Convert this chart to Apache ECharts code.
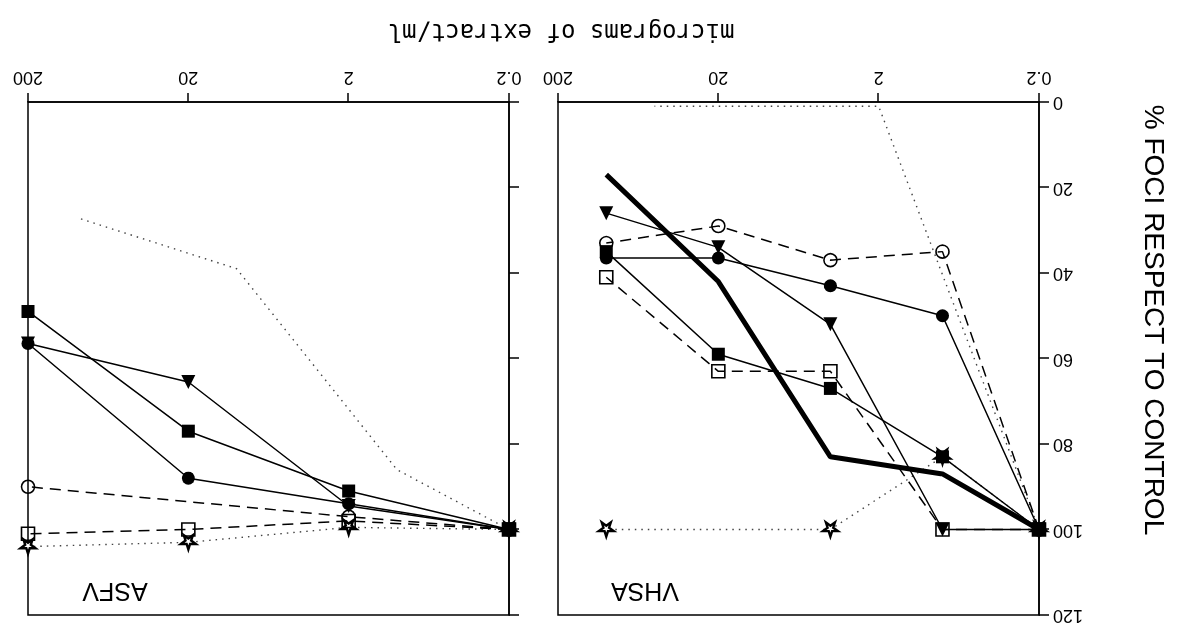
<!DOCTYPE html>
<html>
<head>
<meta charset="utf-8">
<script src="https://cdn.jsdelivr.net/npm/echarts@6/dist/echarts.min.js"></script>
<style>
  html, body { margin: 0; padding: 0; background: #fff; }
  /* the reference figure is scanned upside down */
  #chart { width: 1178px; height: 624px; transform: rotate(180deg); }
</style>
</head>
<body>
<div id="chart"></div>
<script>
// ticks of the log dose axis (micrograms/ml)
var xTicks = [0.2, 2, 20, 200];

// VHSA panel
var vhsaDoses = [0.2, 0.8, 4, 20, 100];
var vhsaThick = [100, 87, 83, 42, 17];
var vhsaFilledCircle = [100, 50, 43, 36.5, 36.5];
var vhsaOpenCircle = [100, 35, 37, 29, 33];
var vhsaTriangle = [100, 100, 52, 34, 26];
var vhsaFilledSquare = [100, 83, 67, 59, 35];
var vhsaOpenSquare = [100, 100, 63, 63, 41];
var vhsaStar = [100, 83, 100, null, 100];
var vhsaDottedDoses = [0.2, 2, 50];
var vhsaDotted = [100, 1, 1];

// ASFV panel
var asfvDoses = [0.2, 2, 20, 200];
var asfvFilledCircle = [100, 94, 88, 56.5];
var asfvTriangle = [100, 94.5, 65.5, 56.5];
var asfvFilledSquare = [100, 91, 77, 49];
var asfvOpenCircle = [100, 97, null, 90];
var asfvOpenSquare = [100, 98, 100, 101];
var asfvStar = [100, 99.5, 103, 104];
var asfvDottedDoses = [0.2, 1, 10, 100];
var asfvDotted = [100, 86, 39, 27];

// position on the axis = decades above 0.2
var toAxis = function (d) { return Math.log10(d / xTicks[0]) }

var solid = { color: '#000', width: 1.5, type: 'solid' }
var dashed = { color: '#000', width: 1.5, type: [11, 7] }
var dotted = { color: '#444', width: 1.4, type: [1.5, 5] }
var thick = { color: '#000', width: 5 }

var starPath = 'path://M50,0 L61,35 L98,35 L68,57 L79,91 L50,70 L21,91 L32,57 L2,35 L39,35 Z'

var marks = {
  none: { symbol: 'none' },
  filledCircle: { symbol: 'circle', symbolSize: 13, itemStyle: { color: '#000' } },
  openCircle: { symbol: 'circle', symbolSize: 13, itemStyle: { color: 'rgba(0,0,0,0)', borderColor: '#000', borderWidth: 1.6 } },
  filledSquare: { symbol: 'rect', symbolSize: 13, itemStyle: { color: '#000' } },
  openSquare: { symbol: 'rect', symbolSize: 13, itemStyle: { color: 'rgba(0,0,0,0)', borderColor: '#000', borderWidth: 1.6 } },
  triangle: { symbol: 'triangle', symbolSize: 14, itemStyle: { color: '#000' } },
  star: { symbol: starPath, symbolSize: 15, symbolKeepAspect: true, itemStyle: { color: '#fff', borderColor: '#000', borderWidth: 2.4 } }
}

function makeSeries(gi, doses, vals, mark, line) {
  var data = []
  doses.forEach(function (d, i) {
    if (vals[i] != null) data.push([toAxis(d), vals[i]])
  })
  var s = {
    type: 'line',
    xAxisIndex: gi,
    yAxisIndex: gi,
    data: data,
    lineStyle: line,
    showSymbol: mark.symbol !== 'none',
    animation: false,
    silent: true
  }
  return Object.assign(s, mark)
}

function makeX(gi) {
  return {
    gridIndex: gi, type: 'value', min: 0, max: 3, interval: 1,
    axisLine: { show: true, lineStyle: { color: '#000', width: 1.5 } },
    axisTick: { show: true, length: 9, lineStyle: { color: '#000', width: 1.5 } },
    splitLine: { show: false },
    axisLabel: {
      margin: 16, color: '#000', fontSize: 18, fontFamily: 'Liberation Sans',
      formatter: function (v) { return String(xTicks[Math.round(v)]) }
    }
  }
}

function makeY(gi, labels) {
  return {
    gridIndex: gi, type: 'value', min: 0, max: 120, interval: 20,
    axisLine: { show: true, lineStyle: { color: '#000', width: 1.5 } },
    axisTick: { show: true, length: 10, lineStyle: { color: '#000', width: 1.5 } },
    splitLine: { show: false },
    axisLabel: { show: labels, margin: 14, color: '#000', fontSize: 18, fontFamily: 'Liberation Sans' }
  }
}

var chart = echarts.init(document.getElementById('chart'))

var option = {
  backgroundColor: '#fff',
  grid: [
    { left: 139, top: 9, width: 481, height: 513, show: true, borderColor: '#000', borderWidth: 1.5 },
    { left: 669, top: 9, width: 481, height: 513, show: true, borderColor: '#000', borderWidth: 1.5 }
  ],
  xAxis: [makeX(0), makeX(1)],
  yAxis: [makeY(0, true), makeY(1, false)],
  graphic: [
    { type: 'text', x: 533, y: 34, silent: true,
      style: { text: 'VHSA', fill: '#000', font: '25px "Liberation Sans"', align: 'center', verticalAlign: 'middle' } },
    { type: 'text', x: 1063, y: 34, silent: true,
      style: { text: 'ASFV', fill: '#000', font: '25px "Liberation Sans"', align: 'center', verticalAlign: 'middle' } },
    { type: 'text', x: 617, y: 594, silent: true,
      style: { text: 'micrograms of extract/ml', fill: '#000', font: '24px "DejaVu Sans Mono"', align: 'center', verticalAlign: 'middle' } },
    { type: 'text', x: 25, y: 304, rotation: Math.PI / 2, silent: true,
      style: { text: '% FOCI RESPECT TO CONTROL', fill: '#000', font: '28px "Liberation Sans"', align: 'center', verticalAlign: 'middle' } }
  ],
  series: [
    makeSeries(0, vhsaDottedDoses, vhsaDotted, marks.none, dotted),
    makeSeries(0, vhsaDoses, vhsaStar, marks.star, dotted),
    makeSeries(0, vhsaDoses, vhsaOpenSquare, marks.openSquare, dashed),
    makeSeries(0, vhsaDoses, vhsaOpenCircle, marks.openCircle, dashed),
    makeSeries(0, vhsaDoses, vhsaFilledSquare, marks.filledSquare, solid),
    makeSeries(0, vhsaDoses, vhsaTriangle, marks.triangle, solid),
    makeSeries(0, vhsaDoses, vhsaFilledCircle, marks.filledCircle, solid),
    makeSeries(0, vhsaDoses, vhsaThick, marks.none, thick),

    makeSeries(1, asfvDottedDoses, asfvDotted, marks.none, dotted),
    makeSeries(1, asfvDoses, asfvStar, marks.star, dotted),
    makeSeries(1, asfvDoses, asfvOpenSquare, marks.openSquare, dashed),
    makeSeries(1, asfvDoses, asfvOpenCircle, marks.openCircle, dashed),
    makeSeries(1, asfvDoses, asfvFilledSquare, marks.filledSquare, solid),
    makeSeries(1, asfvDoses, asfvTriangle, marks.triangle, solid),
    makeSeries(1, asfvDoses, asfvFilledCircle, marks.filledCircle, solid)
  ]
}

chart.setOption(option, true)

window.addEventListener('resize', function () {
  chart.resize()
})
</script>
</body>
</html>
